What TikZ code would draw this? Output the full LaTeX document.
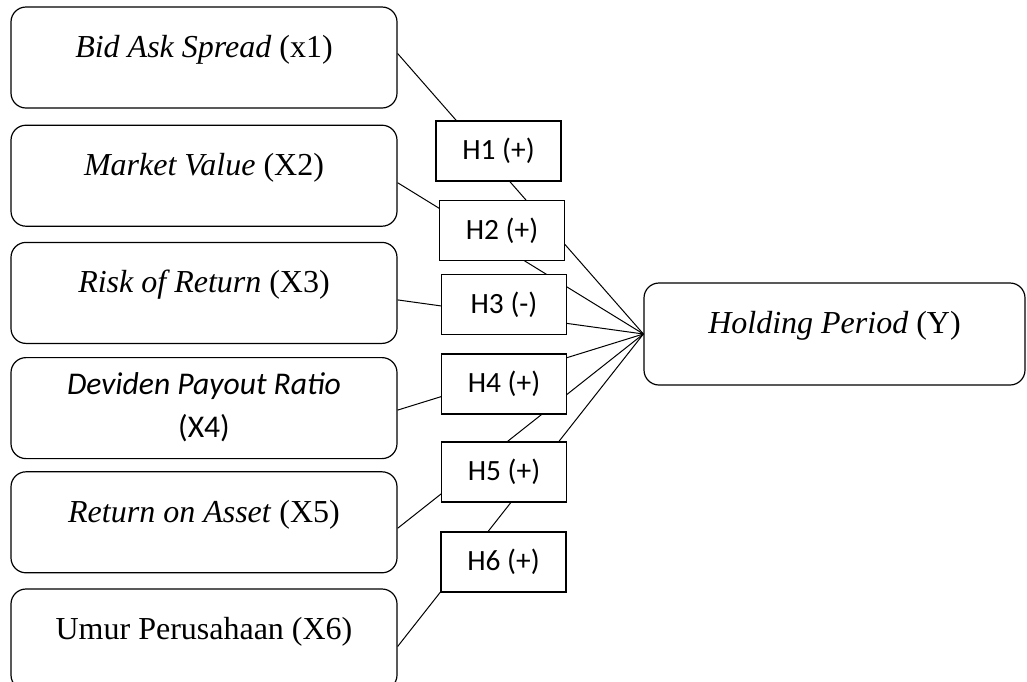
\documentclass[tikz,border=0pt]{standalone}
\usepackage{fontspec}
\setmainfont{Liberation Serif}
\newfontfamily\calibri{Carlito}
\usetikzlibrary{positioning}

\begin{document}
\begin{tikzpicture}[x=0.5pt, y=-0.5pt,
  varbox/.style={draw, line width=0.6pt, rounded corners=7.5pt, minimum width=193pt,
                 minimum height=50.5pt, inner sep=0pt, text height=25.25pt, text depth=25.25pt,
                 font=\fontsize{16}{19}\selectfont},
  outbox/.style={draw, line width=0.6pt, rounded corners=7.5pt, minimum width=190.5pt,
                 minimum height=51pt, inner sep=0pt, text height=25pt, text depth=26pt,
                 font=\fontsize{16}{19}\selectfont},
  hypbox/.style={draw, fill=white, line width=0.6pt, minimum width=62.5pt, minimum height=30pt,
                 inner sep=0pt, font=\calibri\fontsize{14.7}{17}\selectfont},
  link/.style={line width=0.5pt}]
  \useasboundingbox (0,0) rectangle (1027,681);
  % independent variables
  \node[varbox] (x1) at (204,57.5) {\emph{Bid Ask Spread} (x1)};
  \node[varbox, below=8pt of x1] (x2) {\emph{Market Value} (X2)};
  \node[varbox, below=7.5pt of x2] (x3) {\emph{Risk of Return} (X3)};
  \node[varbox, below=6.5pt of x3] (x4) {};
  \node[varbox, below=6pt of x4] (x5) {\emph{Return on Asset} (X5)};
  \node[varbox, below=7.5pt of x5] (x6) {Umur Perusahaan (X6)};
  \begin{scope}
    \clip (x4.north west) rectangle ([yshift=8.5pt]x4.south east);
    \node[anchor=north, inner sep=0pt, align=center, font=\calibri\fontsize{15.8}{21.5}\selectfont]
      (x4txt) at ([yshift=-7.5pt]x4.north) {\itshape Deviden Payout Ratio\\(X4)};
  \end{scope}
  % dependent variable
  \node[outbox] (y) at (834.5,334) {\emph{Holding Period} (Y)};
  \draw[link] ([yshift=2pt]x1.east)--(y.west); \draw[link] ([yshift=-3.5pt]x2.east)--(y.west);
  \draw[link] ([yshift=-3.5pt]x3.east)--(y.west); \draw[link] ([yshift=-1pt]x4.east)--(y.west);
  \draw[link] ([yshift=-3pt]x5.east)--(y.west); \draw[link] ([yshift=-3.5pt]x6.east)--(y.west);
  % hypotheses
  \node[hypbox] (h1) at (498.5,151) {H1 (+)};
  \node[hypbox] (h2) at (502,230.5) {H2 (+)};
  \node[hypbox] (h3) at (504,304.5) {H3 (-)};
  \node[hypbox] (h4) at (504,384) {H4 (+)};
  \node[hypbox] (h5) at (504,472) {H5 (+)};
  \node[hypbox] (h6) at (503.5,562) {H6 (+)};
\end{tikzpicture}
\end{document}
